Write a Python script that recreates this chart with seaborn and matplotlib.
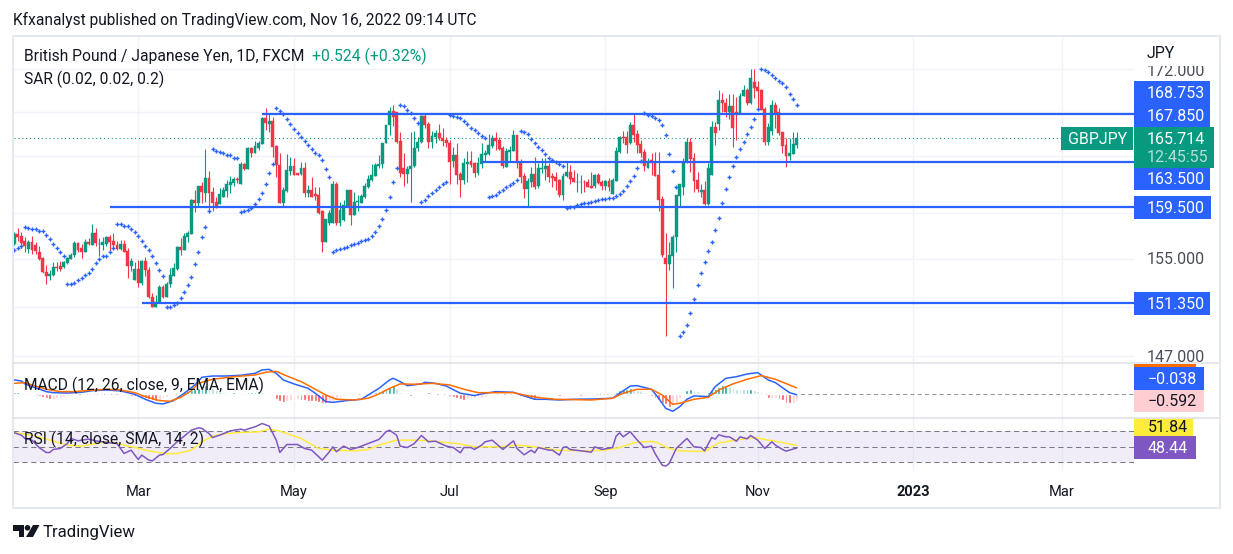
import numpy as np
import pandas as pd
import seaborn as sns
import matplotlib
matplotlib.use('Agg')
import matplotlib.pyplot as plt
from matplotlib.patches import Rectangle, Polygon, Circle

# price candles, one value per trading day
opens = [156.29,157.15,156.98,156.5,155.87,156.41,156.21,155.64,155.07,153.92,
153.58,153.67,154.31,154.37,154.34,154.65,155.01,155.35,156.33,155.93,
155.61,156.47,156.21,157.24,156.27,156.21,156.27,156.84,156.5,156.21,
155.84,156.3,155.7,154.42,153.24,154.17,152.99,154.82,154.11,151.79,
151.02,151.43,152.65,151.82,152.88,153.58,154.14,156.04,155.78,156.92,
157.18,160.08,159.85,161.34,160.72,162.04,160.81,159.93,159.7,160.4,
160.9,161.43,161.58,161.96,161.52,163.29,162.84,164.73,164.3,164.76,
165.09,167.49,166.9,167.18,164.91,163.17,159.87,160.9,162.67,163.11,
162.46,162.4,162.96,160.69,160.99,160.63,160.54,159.09,156.41,158.13,
158.07,161.52,158.07,158.36,159.53,160.99,158.8,159.96,159.82,160.34,
161.28,161.87,162.22,163.11,163.26,165.15,166.78,168.1,168.04,165.36,
162.9,162.4,162.81,163.11,164.7,165.24,167.64,166.9,165.3,165.69,
166.06,165.66,165.45,165.15,163.55,164.09,162.4,161.87,163.29,163.55,
163.35,162.46,163.29,164.09,164.18,164.94,165.6,165.45,164.7,163.05,
164.33,164.49,165.9,163.4,162.22,161.07,161.67,162.4,161.34,162.84,
162.87,163.11,162.22,162.16,161.87,160.54,162.22,162.58,162.04,161.64,
161.64,161.67,161.7,161.31,161.34,162.28,161.7,161.34,161.81,160.63,
161.81,164.4,165.69,165.69,165.21,166.81,165.96,165.09,164.33,162.96,
163.64,163.49,162.31,160.2,155.07,154.59,155.3,156.84,160.46,161.28,
163.49,165.24,163.79,161.87,160.81,160.99,159.76,162.31,166.6,166.9,
169.12,168.87,168.04,168.56,168.04,167.82,169.48,170.04,168.81,170.79,
170.29,170.04,168.26,165.3,166.27,168.66,167.98,166.15,165.0,164.03,
164.18,165.03]
closes = [157.15,156.92,156.35,156.07,156.41,155.73,155.67,155.0,153.92,153.58,
153.75,154.34,154.23,154.14,154.76,155.1,155.35,156.33,155.73,155.64,
156.47,156.27,157.24,156.38,156.3,156.47,156.84,156.44,156.16,155.87,
156.3,155.64,154.45,154.85,154.17,152.96,154.85,154.03,151.85,151.02,
151.43,152.68,151.82,152.91,153.67,154.23,156.04,155.78,156.98,157.24,
160.08,159.85,161.34,160.84,162.04,160.75,159.85,159.61,160.63,160.99,
161.52,161.72,161.96,161.9,163.29,162.84,164.73,164.3,164.91,165.18,
167.49,166.97,167.18,164.79,163.17,159.87,160.99,162.73,163.11,162.31,
162.31,162.96,160.75,160.99,160.4,160.46,158.99,156.41,158.42,158.94,
161.52,158.13,159.23,159.67,160.99,158.8,159.96,159.99,160.46,161.34,
161.93,162.31,163.2,163.26,165.15,166.81,168.1,167.57,165.3,162.46,
162.4,162.84,163.11,164.7,165.24,167.64,166.81,165.3,165.81,166.06,
165.66,165.39,165.15,163.49,164.09,162.31,161.87,163.4,163.49,163.2,
162.52,163.35,164.18,164.27,165.03,165.6,165.36,164.64,163.11,164.49,
164.55,165.9,163.35,162.16,161.05,161.81,162.4,161.28,162.96,162.93,
163.11,162.16,162.04,161.81,160.54,162.25,162.61,161.98,161.67,161.67,
161.67,161.64,161.28,161.19,162.28,161.58,161.34,161.78,161.25,161.87,
164.43,165.69,165.6,165.03,166.81,165.9,165.0,164.3,163.11,163.55,
163.4,162.25,160.11,155.35,154.59,155.33,156.87,160.54,161.49,163.49,
165.24,163.73,161.81,161.07,160.99,159.76,162.9,166.6,166.12,169.12,
168.87,168.04,168.56,166.54,167.82,169.48,170.04,168.81,171.16,170.26,
169.95,168.19,165.3,166.66,168.66,167.88,166.12,164.91,164.03,164.24,
165.09,165.63]
highs = [157.35,157.64,157.3,156.92,156.64,156.98,156.41,156.07,155.21,154.51,
154.09,154.79,154.79,154.85,154.87,155.21,155.5,156.5,156.41,156.3,
156.7,156.78,158.01,157.69,156.78,156.92,157.01,157.07,157.21,156.5,
156.64,156.64,155.93,155.07,154.79,154.93,154.93,155.15,154.31,152.12,
151.98,152.82,152.82,153.1,154.23,154.65,156.13,156.78,157.21,157.44,
160.17,160.99,161.34,161.72,164.62,162.67,161.22,160.4,161.13,161.28,
161.87,162.22,162.16,162.16,163.49,163.35,164.79,164.79,165.36,165.36,
167.52,168.35,167.83,167.52,164.99,164.24,161.28,164.18,163.94,163.79,
162.52,163.49,163.49,161.43,162.16,161.28,161.22,159.23,158.42,159.23,
161.81,161.72,159.96,160.11,160.99,160.99,160.84,160.54,160.6,161.58,
162.31,163.29,163.35,164.09,165.15,166.81,168.44,168.66,168.04,166.21,
164.3,163.11,166.21,166.27,165.75,167.73,167.83,167.04,166.3,166.36,
166.87,166.51,165.75,165.45,164.79,165.15,162.61,163.79,164.49,164.49,
163.49,163.94,165.15,164.55,166.0,165.9,166.21,165.75,164.91,164.7,
164.91,166.36,165.9,163.7,162.46,162.04,163.05,163.88,163.35,163.79,
163.79,163.35,162.46,162.61,161.93,162.46,163.49,163.2,162.76,162.46,
162.31,161.87,161.93,162.61,162.37,162.46,161.87,161.87,162.01,162.01,
164.79,165.81,166.3,166.27,167.04,167.88,166.36,165.45,164.61,163.79,
164.24,164.39,164.39,160.46,157.21,156.41,157.07,160.54,161.52,163.79,
165.6,165.6,164.3,162.61,161.52,161.81,163.35,167.18,167.12,170.04,
169.73,169.27,169.64,169.64,169.42,169.73,170.51,170.2,171.98,171.98,
170.92,170.1,168.5,166.97,169.12,168.96,168.35,166.21,165.6,165.6,
166.15,166.15]
lows = [156.2,156.5,155.93,155.64,155.5,155.44,155.44,154.93,153.81,152.91,
153.19,153.53,153.95,153.95,154.28,154.59,154.99,155.21,155.56,155.07,
155.56,156.16,156.21,156.07,155.27,155.78,156.07,155.64,155.84,155.78,
155.78,155.56,153.41,153.95,153.24,152.68,152.82,153.53,151.71,151.02,
151.02,151.35,151.71,151.79,152.68,153.53,154.09,155.35,155.78,156.41,
157.15,159.05,159.53,159.82,159.96,159.09,159.09,159.38,159.7,160.34,
160.4,160.69,161.34,161.58,161.52,162.76,162.84,163.94,164.3,164.55,
165.09,166.36,166.21,163.94,162.1,159.87,159.58,160.84,162.31,162.31,
162.28,162.31,160.4,160.4,160.34,160.11,158.88,155.64,156.41,157.92,
158.07,157.92,157.87,158.22,159.53,157.92,158.8,159.09,159.82,160.25,
161.13,161.81,162.22,162.9,162.9,165.15,165.9,166.72,165.15,162.16,
161.34,161.58,159.96,163.05,164.49,165.15,166.51,164.7,164.7,165.21,
165.45,164.91,164.79,161.52,162.99,161.52,160.4,161.52,161.72,162.99,
162.16,162.31,162.9,163.49,164.09,164.7,164.55,164.55,162.9,163.05,
163.49,164.49,162.9,161.58,160.25,159.53,161.22,161.05,161.13,162.46,
161.87,161.72,161.28,160.99,160.34,160.05,162.16,161.52,161.64,160.84,
160.75,160.84,161.22,161.16,161.13,161.52,160.93,160.93,160.9,160.63,
161.81,164.24,165.15,164.24,165.09,165.3,164.24,163.94,162.7,162.9,
162.31,162.22,159.09,155.21,148.6,154.09,152.57,155.64,159.44,160.54,
163.4,162.61,160.84,160.78,160.4,159.67,159.67,162.31,165.0,166.36,
168.04,167.52,167.34,164.85,165.45,167.82,169.48,168.66,168.75,169.33,
168.19,168.19,165.0,165.0,165.9,166.51,165.9,164.24,163.05,163.64,
164.18,164.7]

# parabolic SAR, one value per day
sar = [155.73,155.9,156.13,157.72,157.64,157.61,157.55,157.44,157.38,157.07,
156.7,156.3,155.93,155.64,155.3,152.88,152.93,153.02,153.19,153.36,
153.61,153.81,154.14,154.65,154.99,155.24,155.24,155.58,155.93,157.98,
157.98,157.87,157.87,157.55,157.27,156.95,156.53,156.13,155.78,155.27,
154.65,154.03,153.53,150.96,151.02,151.13,151.3,151.71,152.26,152.79,
153.44,154.56,155.64,156.84,157.72,159.09,164.61,164.46,164.33,164.24,
164.12,164.06,163.85,163.79,159.03,159.09,159.23,159.38,159.73,160.2,
160.69,161.49,162.46,163.26,168.35,168.13,167.79,167.39,166.9,166.42,
166.06,165.69,165.36,165.0,164.61,164.3,164.06,163.64,162.81,162.1,
155.58,155.73,155.84,155.9,156.01,156.16,156.27,156.36,156.53,156.61,
156.67,156.95,157.3,157.87,158.42,159.2,160.34,161.67,162.93,168.66,
168.56,168.16,167.95,167.43,166.97,159.9,160.08,160.43,160.69,160.99,
161.22,161.52,161.72,167.73,167.6,167.52,167.43,167.15,166.87,166.57,
166.33,166.06,165.84,165.6,160.34,160.43,160.51,160.78,160.99,161.25,
161.4,161.58,161.84,166.24,166.15,166.0,165.54,165.18,164.82,164.52,
164.18,163.85,163.61,163.49,163.29,163.08,159.38,159.44,159.5,159.64,
159.7,159.79,159.82,159.9,159.99,160.08,160.17,160.2,160.25,160.31,
160.46,160.63,160.87,161.31,161.75,162.25,162.9,163.58,167.95,167.73,
167.64,167.49,167.3,166.78,165.87,164.15,162.64,161.22,148.57,148.9,
149.48,150.47,151.63,152.79,153.81,154.73,155.67,156.44,157.47,158.51,
159.79,161.05,162.1,163.08,163.88,164.61,165.24,165.96,166.6,167.34,
168.26,171.98,171.88,171.7,171.41,171.13,170.85,170.66,170.29,169.64,
169.18,168.62]

# horizontal levels and where each one starts
level_prices = [167.85, 163.5, 159.5, 151.35]
level_starts = [70, 132, 27, 36]
last_line = 165.6
price_grid = [147, 151, 155, 159, 164, 168, 172]

# MACD, lines read at turning points
macd_days = [0,2,3,5,7,9,11,15,19,22,26,30,34,37,40,42,45,48,51,53,56,60,64,68,70,72,74,76,79,83,85,88,90,94,98,100,103,106,107,109,111,115,116,119,122,126,130,132,136,141,144,147,150,154,158,164,169,171,174,176,180,182,184,186,188,190,192,196,198,201,204,207,210,213,215,219,221]
macd_vals = [1.23,1.14,.89,.66,.46,.23,.14,.11,.17,.31,.37,.29,0,-.43,-.77,-.83,-.54,.09,.8,1.46,1.57,1.57,1.63,1.8,2.09,2.14,1.8,1.23,.89,.51,.09,-.63,-.69,-.54,-.43,-.06,.51,1.23,1.37,1.09,.74,.89,1.03,.94,.71,.09,-.11,.03,.23,.17,-.14,-.43,-.43,-.49,-.43,-.4,-.34,.09,.71,.74,.43,-.34,-1.2,-1.46,-1.06,-.43,-.14,-.2,.66,1.37,1.51,1.74,1.86,1.23,1.0,.14,-.038]
signal_days = [0,3,5,9,13,17,20,26,30,34,37,41,44,47,50,52,56,62,68,71,74,77,81,84,88,91,96,100,103,106,109,113,118,123,127,131,135,141,144,148,153,163,169,172,176,180,183,186,188,192,196,199,203,207,211,215,221]
signal_vals = [.94,1.0,.8,.43,.23,.23,.31,.43,.37,.14,-.2,-.54,-.6,-.26,.31,.94,1.29,1.51,1.66,1.89,1.97,1.57,1.09,.6,-.06,-.43,-.49,-.34,.03,.51,.89,.86,.94,.8,.43,.14,.14,.14,-.06,-.29,-.43,-.49,-.34,.09,.43,.43,-.06,-.86,-.77,-.43,-.26,.37,.89,1.29,1.6,1.29,.55]
hist_vals = [.17,.17,.14,.11,.11,.09,.06,-.11,-.23,-.34,
-.43,-.4,-.34,-.29,-.23,-.17,-.11,-.06,.03,.03,
.03,.06,.06,.06,.06,.03,.06,.03,.06,.03,
-.03,-.06,-.09,-.11,-.14,-.14,-.23,-.29,-.37,-.49,
-.54,-.46,-.4,-.26,-.14,-.06,.03,.09,.17,.26,
.34,.46,.57,.69,.8,.66,.54,.4,.29,.2,
.14,.14,.17,.14,.11,.14,.17,.2,.23,.26,
.2,.14,.09,.03,-.4,-.57,-.66,-.57,-.51,-.46,
-.43,-.46,-.49,-.54,-.57,-.6,-.66,-.71,-.77,-.69,
-.57,-.43,-.29,-.17,-.09,-.06,-.03,.03,.03,.06,
.09,.11,.17,.26,.37,.49,.63,.8,.51,.23,
.09,-.09,-.14,-.09,-.09,-.06,.09,.17,.11,.03,
.03,.03,-.06,-.11,-.23,-.29,-.37,-.51,-.43,-.37,
-.34,-.31,-.29,-.23,-.09,-.06,.03,.09,.06,.03,
.03,.09,-.03,-.14,-.2,-.29,-.34,-.37,-.23,-.14,
-.09,-.09,-.09,-.06,-.14,-.11,-.06,-.03,-.03,-.09,
-.11,-.11,-.06,-.09,-.09,.03,.03,.03,.03,.03,
.23,.34,.46,.49,.57,.4,.34,.29,.17,.09,
-.14,-.34,-.51,-.71,-.86,-1.06,-.94,-.71,-.29,-.09,
.4,.43,.34,.26,.2,.11,.2,.34,.43,.63,
.8,.8,.71,.63,.49,.46,.43,.43,.46,.4,
.31,.17,.03,-.34,-.34,-.34,-.4,-.49,-.71,-.77,
-.71,-.592]

# RSI and its moving average
rsi_days = [0,2,3,5,7,9,10,11,13,15,16,18,19,21,23,25,27,29,31,33,35,36,38,39,41,42,44,46,48,50,52,53,55,56,58,61,64,65,67,68,70,72,74,75,77,80,82,84,87,89,90,91,93,95,97,100,103,105,106,108,109,111,113,115,117,119,122,124,126,127,129,130,132,133,135,138,141,142,144,146,147,148,151,152,154,155,156,157,163,164,166,169,170,171,172,174,176,178,180,181,183,184,185,187,190,192,194,195,197,198,199,201,202,204,205,207,208,210,212,214,215,217,218,221]
rsi_vals = [68.1,65.0,60.8,58.6,49.1,42.7,42.7,46.6,47.9,54.3,60.8,57.7,58.6,59.9,57.7,56.5,55.2,54.3,41.4,45.7,33.7,39.3,32.8,31.9,39.3,40.1,47.9,56.5,63.8,71.5,74.5,73.7,67.2,62,65,70.6,72.8,71.5,74.5,75.8,80.1,76.7,58.6,42.7,53,53,47.9,45.7,32.8,43.6,50,43.6,50.9,46.6,49.1,54.3,59.5,69.4,71.5,65,50.9,49.1,54.3,64.6,56.5,57.3,50.9,49.1,42.3,49.1,49.1,46.6,52.2,56.5,58.6,46.6,57.7,47.9,39.7,45.7,42.3,49.1,45.7,45.7,39.3,49.1,50,46.6,43.1,50,46.6,49.1,63.8,68.1,62.9,69.4,58.6,49.1,50.9,41.4,26.4,25.1,28.5,47.9,60.8,50,49.1,44.8,62,59.9,65.5,62.9,62.9,57.3,62.9,60.3,64.6,58.6,47.9,56.5,52.2,46.6,44.4,48.44]
rsi_ma_days = [0,5,10,15,19,22,26,29,34,38,43,46,50,53,56,60,64,69,72,75,81,86,90,96,100,103,108,114,118,125,130,137,142,147,153,162,167,171,175,179,181,185,188,195,199,205,209,212,217,221]
rsi_ma_vals = [68.1,65,58.6,52.2,50.9,53.4,56.5,54.3,49.1,44.8,41,41.4,45.7,56.5,63.8,67.2,68.5,69.4,72.8,70.2,60.8,47.9,45.7,44.8,46.6,52.2,58.6,58.6,57.3,54.3,50,50,52.2,50,45.7,44.8,45.7,49.1,55.2,56.9,56.5,47.9,44.8,44,55.2,59.5,62,59.5,55.6,51.84]

month_ticks = [35, 79, 123, 167, 210, 254, 296]
month_labels = ['Mar', 'May', 'Jul', 'Sep', 'Nov', '2023', 'Mar']

sns.set_theme(style='white')
plt.rcParams['font.family'] = ['Roboto', 'DejaVu Sans']

GREEN = '#089981'
RED = '#f23645'
BLUE = '#2962ff'
GRID = '#f0f3fa'
TEXT = '#131722'
W, H = 1233, 554
LEFT, RIGHT = 13, 1134

fig = plt.figure(figsize=(W / 100, H / 100), dpi=100, facecolor='white')


def pane(top, bottom):
    a = fig.add_axes([LEFT / W, 1 - bottom / H, (RIGHT - LEFT) / W, (bottom - top) / H])
    a.set_xlim(-0.37, 316.3)
    a.set_facecolor('none')
    for s in a.spines.values():
        s.set_visible(False)
    for t in month_ticks:
        a.axvline(t, color=GRID, lw=1, zorder=0)
    a.tick_params(left=False, bottom=False, labelleft=False, labelbottom=False)
    return a


days = np.arange(len(opens))
df = pd.DataFrame({'day': days, 'open': opens, 'high': highs, 'low': lows, 'close': closes, 'sar': sar})

# main pane
ax = pane(36, 362)
ax.set_yscale('log')
ax.set_ylim(146.5, 175.14)
ax.minorticks_off()
ax.tick_params(which='both', left=False, labelleft=False)
ax.set_yticks([])
for p in price_grid:
    ax.axhline(p, color=GRID, lw=1, zorder=0)

up = df['close'] >= df['open']
colors = np.where(up, GREEN, RED)
ax.vlines(df['day'], df['low'], df['high'], colors=colors, lw=0.8, zorder=2)
ax.bar(df['day'], (df['close'] - df['open']).abs(), bottom=df[['open', 'close']].min(axis=1),
       width=0.82, color=colors, edgecolor=colors, linewidth=0.3, zorder=3)
sns.scatterplot(data=df, x='day', y='sar', marker='+', s=9, color=BLUE, linewidth=1.0, ax=ax, zorder=4, legend=False)
ax.hlines(level_prices, level_starts, 316.3, color=BLUE, lw=1.6, zorder=5)
ax.plot([0, 296.5], [last_line, last_line], color=GREEN, lw=0.8, ls=(0, (1, 2.5)), zorder=1)
ax.set_xlabel('')
ax.set_ylabel('')

# MACD pane
ax2 = pane(364, 417)
ax2.set_ylim(-1.95, 2.6)
ax2.axhline(0, color='#9598a1', lw=0.75, ls=(0, (4, 3)), zorder=1)
hist_colors = []
for k, v in enumerate(hist_vals):
    prev = hist_vals[k - 1] if k else v
    if v >= 0:
        hist_colors.append('#26a69a' if v >= prev else '#b2dfdb')
    else:
        hist_colors.append('#ffcdd2' if v >= prev else '#ff5252')
ax2.bar(days, hist_vals, width=0.8, color=hist_colors, zorder=2)
sns.lineplot(x=macd_days, y=macd_vals, color=BLUE, lw=1.1, ax=ax2, zorder=3, errorbar=None)
sns.lineplot(x=signal_days, y=signal_vals, color='#ff6d00', lw=1.1, ax=ax2, zorder=4, errorbar=None)

# RSI pane
ax3 = pane(418, 471)
ax3.set_ylim(18.8, 87.2)
ax3.axhspan(30, 70, color='#7e57c2', alpha=0.1, lw=0, zorder=1)
for lev in [70, 50, 30]:
    ax3.axhline(lev, color='#787b86', lw=0.75, ls=(0, (5, 3.5)), zorder=2)
sns.lineplot(x=rsi_ma_days, y=rsi_ma_vals, color='#ffeb3b', lw=1.1, ax=ax3, zorder=3, errorbar=None)
sns.lineplot(x=rsi_days, y=rsi_vals, color='#7e57c2', lw=1.1, ax=ax3, zorder=4, errorbar=None)
ax3.set_xticks(month_ticks)
ax3.set_xticklabels(month_labels, fontsize=10.5, color=TEXT)
ax3.tick_params(labelbottom=True, length=0, pad=10)
for lab in ax3.get_xticklabels():
    if lab.get_text() == '2023':
        lab.set_fontweight('bold')

# overlay in pixel units for frame, price tags and legends
ov = fig.add_axes([0, 0, 1, 1], zorder=10)
ov.set_xlim(0, W)
ov.set_ylim(H, 0)
ov.axis('off')
ov.patch.set_alpha(0)


def tag(x0, y0, x1, y1, fc, label=None, tc='white', tx=None, ty=None, size=11.5):
    ov.add_patch(Rectangle((x0, y0), x1 - x0, y1 - y0, fc=fc, ec='none'))
    if label:
        ov.text(tx if tx else x0 + 13, ty if ty else (y0 + y1) / 2 + 1, label, color=tc,
                fontsize=size, va='center', ha='left')


frame = '#e6e8f0'
ov.add_patch(Rectangle((13, 36), 1207, 472, fc='none', ec=frame, lw=1.5))
for yy in [363, 417.5]:
    ov.plot([13, 1220], [yy, yy], color='#e0e3eb', lw=1.2)

# price scale text
for lab, yy in [('172.000', 72), ('155.000', 260), ('147.000', 357)]:
    ov.text(1147, yy, lab, color='#4a4e5a', fontsize=11.5, va='center', ha='left')
ov.add_patch(Rectangle((1135, 44), 84, 22, fc='white', ec='none', zorder=3))
ov.text(1147, 54, 'JPY', color=TEXT, fontsize=11.5, va='center', ha='left', zorder=4)

tag(1134, 81, 1210, 104, BLUE, '168.753')
tag(1134, 104, 1210, 127, BLUE, '167.850')
tag(1134, 167, 1210, 190, BLUE, '163.500')
tag(1134, 196, 1211, 219, BLUE, '159.500')
tag(1134, 292, 1210, 315, BLUE, '151.350')
tag(1061, 127, 1133, 150, GREEN, 'GBPJPY', tx=1068)
tag(1134, 127, 1214, 168, GREEN)
ov.text(1147, 139.5, '165.714', color='white', fontsize=11.5, va='center')
ov.text(1147, 157.5, '12:45:55', color='#b5e0d5', fontsize=11.5, va='center')

tag(1134, 364, 1196, 367, '#ff6d00')
tag(1134, 367, 1204, 390, BLUE, '\u22120.038', tx=1148)
tag(1134, 390, 1204, 412, '#ffcdd2', '\u22120.592', tc=TEXT, tx=1148)
tag(1134, 418, 1193, 436, '#ffeb3b', '51.84', tc=TEXT, tx=1148)
tag(1134, 436, 1196, 459, '#7e57c2', '48.44', tx=1148)

# legends and captions
ov.text(13, 20, 'Kfxanalyst published on TradingView.com, Nov 16, 2022 09:14 UTC', color=TEXT, fontsize=11.2, va='center')
ov.text(24, 56, 'British Pound / Japanese Yen, 1D, FXCM', color=TEXT, fontsize=11.25, va='center')
ov.text(312, 56, '+0.524 (+0.32%)', color=GREEN, fontsize=11.3, va='center')
ov.text(24, 79, 'SAR (0.02, 0.02, 0.2)', color=TEXT, fontsize=11.25, va='center')
ov.text(24, 385, 'MACD (12, 26, close, 9, EMA, EMA)', color=TEXT, fontsize=11.25, va='center')
ov.text(24, 439, 'RSI (14, close, SMA, 14, 2)', color=TEXT, fontsize=11.25, va='center')

# TradingView mark and name
ov.add_patch(Polygon([(13, 525), (24, 525), (24, 537), (18.5, 537), (18.5, 530.5), (13, 530.5)], fc=TEXT, ec='none'))
ov.add_patch(Circle((27.5, 527.8), 2.8, fc=TEXT, ec='none'))
ov.add_patch(Polygon([(33, 525), (39.5, 525), (33, 537), (26, 537)], fc=TEXT, ec='none'))
ov.text(43, 532, 'TradingView', color=TEXT, fontsize=12.1, va='center')

fig.savefig('out.png', dpi=100)
